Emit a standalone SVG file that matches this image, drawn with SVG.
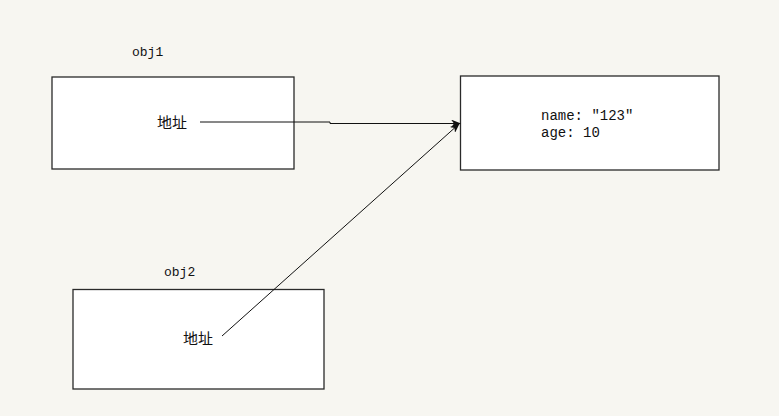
<svg xmlns="http://www.w3.org/2000/svg" width="779" height="416" viewBox="0 0 779 416">
<style>
.box{fill:#ffffff;stroke:#2a2a2a;stroke-width:1.3}
.lbl{font-family:"Liberation Mono","Noto Sans CJK SC",monospace;font-size:13px;fill:#111}
.cjk{font-family:"Noto Sans CJK SC","Liberation Sans",sans-serif;font-size:15px;fill:#111}
.val{font-family:"Liberation Mono",monospace;font-size:14px;fill:#111}
.conn{fill:none;stroke:#111;stroke-width:1}
</style>
<defs>
<marker id="arr" markerWidth="10" markerHeight="8" refX="9" refY="4" orient="auto" markerUnits="userSpaceOnUse">
<path d="M0,0 L10,4 L0,8 L3,4 Z" fill="#111"/>
</marker>
</defs>
<rect width="779" height="416" fill="#f7f6f1"/>
<g id="obj1">
<text class="lbl" x="132" y="56">obj1</text>
<rect class="box" x="52" y="77" width="242" height="92"/>
<text class="cjk" x="157" y="128">地址</text>
</g>
<g id="target">
<rect class="box" x="460.5" y="76" width="258.5" height="94"/>
<text class="val" x="541" y="120">name: ″123″</text>
<text class="val" x="541" y="137">age: 10</text>
</g>
<g id="obj2">
<text class="lbl" x="164" y="276">obj2</text>
<rect class="box" x="73" y="289.5" width="251" height="99.5"/>
<text class="cjk" x="183" y="344">地址</text>
</g>
<g id="connectors">
<polyline class="conn" points="200,122 330,122 330,123.5 460,123.5" marker-end="url(#arr)"/>
<line class="conn" x1="222" y1="336" x2="459" y2="124" marker-end="url(#arr)"/>
</g>
</svg>
